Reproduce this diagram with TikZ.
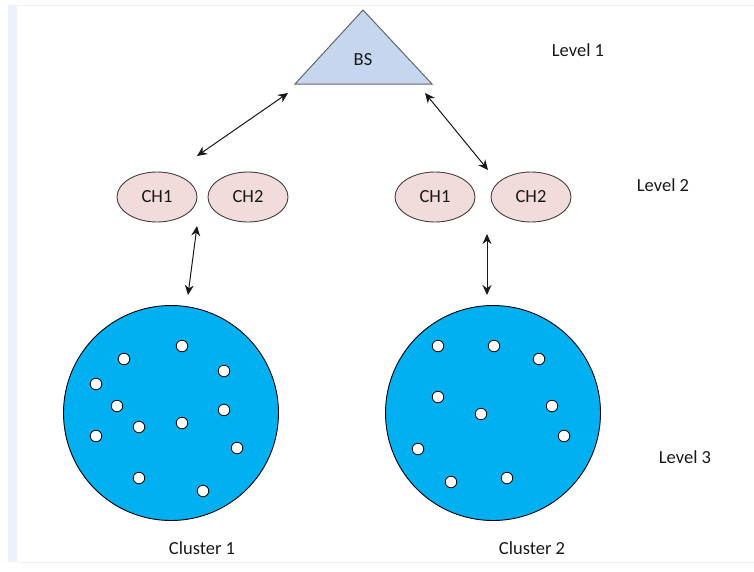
\documentclass[tikz,border=0pt]{standalone}
\usepackage{fontspec}
\setmainfont{Carlito}
\usetikzlibrary{arrows.meta,shapes.geometric}
\definecolor{frameblue}{HTML}{EDF1FA}
\definecolor{bsfill}{HTML}{C6D6EE}
\definecolor{chfill}{HTML}{F2DCDB}
\definecolor{clfill}{HTML}{00B0F0}
\tikzset{
  lbl/.style={font=\fontsize{18.5}{22}\selectfont, text=black!90, inner sep=0pt},
  chnode/.style={ellipse, draw=black!75, line width=0.9pt, fill=chfill, minimum width=80pt, minimum height=50pt, inner sep=0pt, font=\fontsize{18.5}{22}\selectfont, text=black!90},
  cluster/.style={circle, draw=black, line width=0.9pt, fill=clfill, minimum size=215pt, inner sep=0pt},
  sensor/.style={circle, draw=black, line width=0.8pt, fill=white, minimum size=11.5pt, inner sep=0pt},
  arr/.style={{Stealth[length=10pt,width=9pt]}-{Stealth[length=10pt,width=9pt]}, line width=1pt, draw=black!90},
}
\begin{document}
\begin{tikzpicture}[x=1pt,y=-1pt]
\useasboundingbox (0,0) rectangle (754,571);
% page frame
\fill[frameblue] (8,5) rectangle (17,562);
\draw[frameblue, line width=0.8pt] (17,5) -- (754,5);
\draw[frameblue, line width=0.8pt] (17,562) -- (754,562);
% base station
\draw[draw=black!60, line width=1pt, fill=bsfill] (363,10) -- (432,84) -- (295,84) -- cycle;
\node[lbl] (bs) at (363,60) {BS};
% level labels
\node[lbl] (lv1) at (578,50) {Level 1};
\node[lbl] (lv2) at (663,185) {Level 2};
\node[lbl] (lv3) at (685,457) {Level 3};
% cluster heads
\node[chnode] (c1h1) at (157,197) {CH1};
\node[chnode] (c1h2) at (248,197) {CH2};
\node[chnode] (c2h1) at (435,197) {CH1};
\node[chnode] (c2h2) at (531,197) {CH2};
% clusters
\node[cluster] (cl1) at (171,413) {};
\node[cluster] (cl2) at (493,413) {};
\foreach \p [count=\i] in {(182,346),(124,359),(224,371),(96,384),(117,406),(224,410),(139,427),(182,423),(96,436),(237,448),(139,478),(203,491)}
  \node[sensor] (sa\i) at \p {};
\foreach \p [count=\i] in {(438,346),(494,346),(539,359),(438,397),(552,406),(481,414),(564,436),(418,449),(451,482),(507,478)}
  \node[sensor] (sb\i) at \p {};
\node[lbl] (cap1) at (202,548) {Cluster 1};
\node[lbl] (cap2) at (532,548) {Cluster 2};
% connector end points
\coordinate (bsl) at (288,93);
\coordinate (bsr) at (425,93);
\coordinate (hl) at (197,156);
\coordinate (hr) at (488,170);
\coordinate (vlt) at (197,226);
\coordinate (vlb) at (188,295);
\coordinate (vrt) at (487,234);
\coordinate (vrb) at (487,295);
\draw[arr] (hl) -- (bsl);
\draw[arr] (bsr) -- (hr);
\draw[arr] (vlt) -- (vlb);
\draw[arr] (vrt) -- (vrb);
\end{tikzpicture}
\end{document}
